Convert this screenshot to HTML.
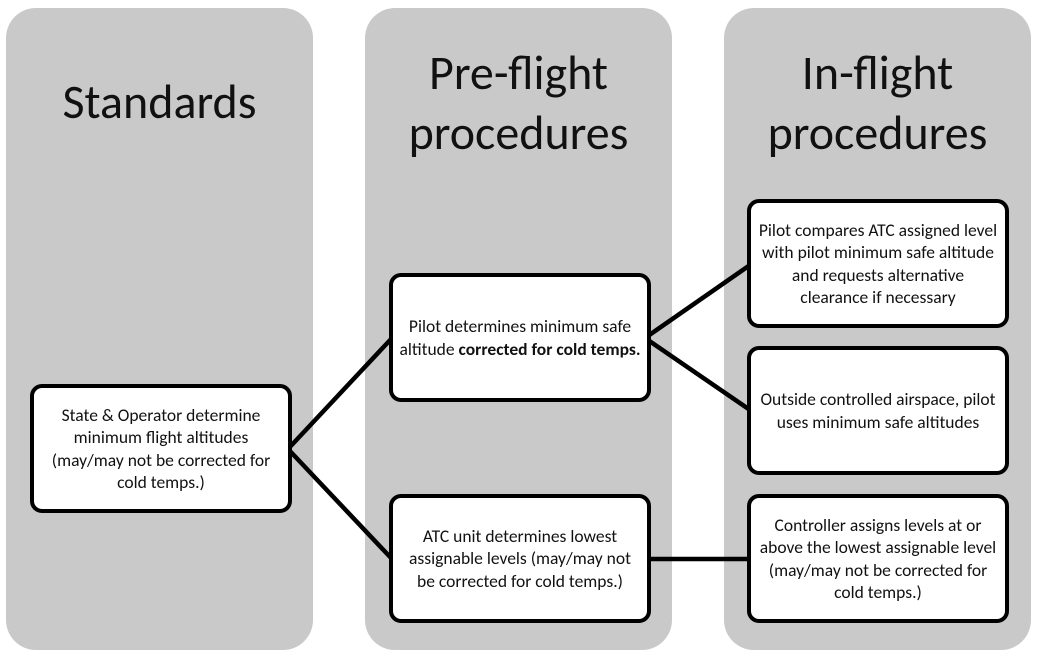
<!DOCTYPE html>
<html><head><style>
body{margin:0;width:1041px;height:663px;background:#fff;position:relative;overflow:hidden;font-family:"Carlito","Liberation Sans",sans-serif;}
.col{position:absolute;top:8px;width:307px;height:642px;background:#c9c9c9;border-radius:30px;}
.h{position:absolute;width:307px;text-align:center;font-size:48px;line-height:60px;color:#111;}
.b{position:absolute;width:242px;height:121px;background:#fff;border:4px solid #000;border-radius:12px;box-sizing:content-box;display:flex;align-items:center;justify-content:center;text-align:center;font-size:17.5px;line-height:22.5px;color:#111;padding:0 6px;}
svg{position:absolute;left:0;top:0;}
</style></head><body>
<div class="col" style="left:6px"></div>
<div class="col" style="left:365px"></div>
<div class="col" style="left:724px"></div>
<div class="h" style="left:6px;top:72px">Standards</div>
<div class="h" style="left:365px;top:43px">Pre-flight<br>procedures</div>
<div class="h" style="left:724px;top:43px">In-flight<br>procedures</div>
<svg width="1041" height="663"><g stroke="#000" stroke-width="4.5" fill="none">
<line x1="288" y1="449" x2="392" y2="338"/><line x1="288" y1="449" x2="392" y2="559"/>
<line x1="645" y1="338" x2="750" y2="265"/><line x1="645" y1="338" x2="750" y2="410"/>
<line x1="645" y1="559" x2="750" y2="559"/></g></svg>
<div class="b" style="left:30px;top:384px">State &amp; Operator determine minimum flight altitudes (may/may not be corrected for cold temps.)</div>
<div class="b" style="left:389px;top:273px"><div>Pilot determines minimum safe altitude <b>corrected for cold temps.</b></div></div>
<div class="b" style="left:389px;top:494px">ATC unit determines lowest assignable levels (may/may not be corrected for cold temps.)</div>
<div class="b" style="left:747px;top:199px">Pilot compares ATC assigned level with pilot minimum safe altitude and requests alternative clearance if necessary</div>
<div class="b" style="left:747px;top:346px">Outside controlled airspace, pilot uses minimum safe altitudes</div>
<div class="b" style="left:747px;top:494px">Controller assigns levels at or above the lowest assignable level (may/may not be corrected for cold temps.)</div>
</body></html>
